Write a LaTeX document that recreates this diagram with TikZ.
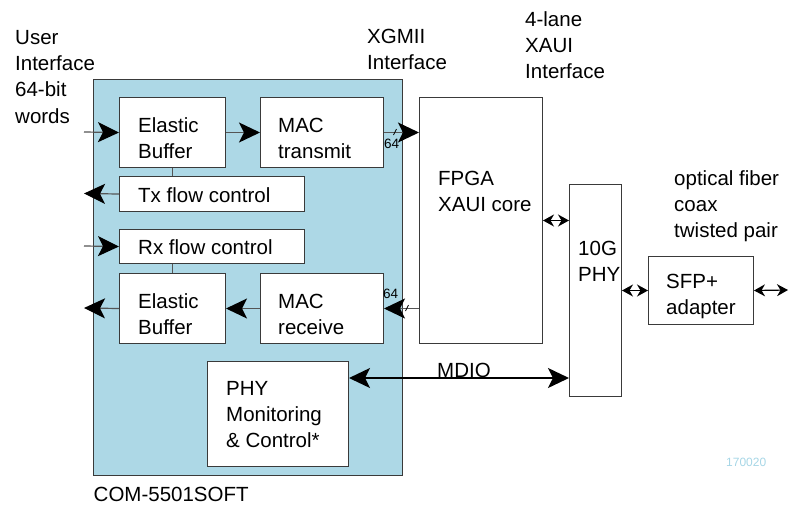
\documentclass[tikz,border=0pt]{standalone}
\usepackage{fontspec}
\setmainfont{Liberation Sans}
\usetikzlibrary{arrows.meta}

\newcommand\lblfont{\fontsize{20.5}{26.3}\selectfont}
\newcommand\busfont{\fontsize{13.5}{15}\selectfont}
\newcommand\tagfont{\fontsize{12}{14}\selectfont}

\definecolor{panel}{HTML}{ADD8E6}
\definecolor{edge}{HTML}{3A3A3A}
\definecolor{wire}{HTML}{555555}
\definecolor{tagblue}{HTML}{A6D6E6}

\begin{document}
\begin{tikzpicture}[x=1pt,y=-1pt,
  box/.style={draw=edge, line width=1pt, fill=white, anchor=north west, inner sep=0pt},
  % multi-line labels: placed by the baseline of their first line
  txt/.style={font=\lblfont, align=left, inner sep=0pt, anchor=north west, yshift=18.41pt},
  bus/.style={font=\busfont, inner sep=0pt, anchor=base west},
  wire/.style={draw=wire, line width=1.2pt},
  bigtip/.tip={Stealth[length=21pt,width=20pt,inset=5pt,color=black]},
  smalltip/.tip={Stealth[length=11pt,width=12pt,inset=3.5pt]},
  bigarrow/.style={wire, -{bigtip}},
  smallboth/.style={draw=black, line width=1.2pt, {smalltip}-{smalltip}},
  mdio/.style={draw=black, line width=1.5pt, {bigtip}-{bigtip}},
  tick/.style={draw=black, line width=0.7pt}
]
\useasboundingbox (0,0) rectangle (795,504);

% COM-5501SOFT core panel and its blocks
\node[box, fill=panel, minimum width=309pt, minimum height=396pt] (core) at (93,79) {};
\node[box, minimum width=106pt, minimum height=70pt] (eb1) at (119,97) {};
\node[box, minimum width=123pt, minimum height=70pt] (mactx) at (260,97) {};
\node[box, minimum width=185pt, minimum height=35pt] (txfc) at (119,176) {};
\node[box, minimum width=185pt, minimum height=34pt] (rxfc) at (119,229) {};
\node[box, minimum width=106pt, minimum height=70pt] (eb2) at (119,273) {};
\node[box, minimum width=123pt, minimum height=70pt] (macrx) at (260,273) {};
\node[box, minimum width=141pt, minimum height=105pt] (mon) at (207,361) {};

% external blocks
\node[box, minimum width=123pt, minimum height=246pt] (fpga) at (419,97) {};
\node[box, minimum width=52pt, minimum height=212pt] (phy) at (569,184) {};
\node[box, minimum width=105pt, minimum height=68pt] (sfp) at (648,256) {};

% block texts
\node[txt] (teb1) at (138,132) {\strut Elastic\\Buffer};
\node[txt] (tmactx) at (278,132) {\strut MAC\\transmit};
\node[txt] (ttxfc) at (138,202) {\strut Tx flow control};
\node[txt] (trxfc) at (138,254) {\strut Rx flow control};
\node[txt] (teb2) at (138,308) {\strut Elastic\\Buffer};
\node[txt] (tmacrx) at (278,308) {\strut MAC\\receive};
\node[txt] (tmon) at (226,395) {\strut PHY\\Monitoring\\\& Control*};
\node[txt] (tfpga) at (438,185) {\strut FPGA\\XAUI core};
\node[txt] (tphy) at (578,255) {\strut 10G\\PHY};
\node[txt] (tsfp) at (666,288) {\strut SFP+\\adapter};

% interface captions
\node[txt] (user) at (15,44) {\strut User\\Interface\\64-bit\\words};
\node[txt] (xgmii) at (367,43) {\strut XGMII\\Interface};
\node[txt] (xaui) at (525,26) {\strut 4-lane\\XAUI\\Interface};
\node[txt] (media) at (674,185) {\strut optical fiber\\coax\\twisted pair};
\node[txt] (mdiotxt) at (437,377) {\strut MDIO};
\node[txt] (title) at (93.5,501) {\strut COM-5501SOFT};
\node[font=\tagfont, text=tagblue, inner sep=0pt, anchor=base west] (tag) at (726,466) {170020};

% free ends of the user-side and line-side connectors
\coordinate (uin) at (84,132);
\coordinate (txout) at (84,193.5);
\coordinate (rxin) at (84,246);
\coordinate (rxout) at (84,308);
\coordinate (line) at (788,290);
\coordinate (mdioy) at (0,378);

% transmit path
\draw[bigarrow] (uin) -- (eb1.west);
\draw[bigarrow] (eb1.east) -- (mactx.west);
\draw[bigarrow] (mactx.east) -- (mactx.east -| fpga.west);
\draw[wire, line width=1pt] (eb1.south) -- (eb1.south |- txfc.north);
\draw[bigarrow] (txfc.west) -- (txout);

% receive path
\draw[bigarrow] (rxin) -- (rxfc.west);
\draw[wire, line width=1pt] (eb2.north) -- (eb2.north |- rxfc.south);
\draw[bigarrow] (macrx.west) -- (eb2.east);
\draw[bigarrow] (eb2.west) -- (rxout);
\draw[bigarrow] (macrx.east -| fpga.west) -- (macrx.east);

% 64-bit bus marks
\draw[tick] (393.5,135) -- (396.5,129);
\node[bus] (btx) at (384,148) {64};
\draw[tick] (405.5,311) -- (408.5,305);
\node[bus] (brx) at (383,298) {64};

% XAUI, line side and management links
\draw[smallboth] (fpga.east) -- (fpga.east -| phy.west);
\draw[smallboth] (sfp.west -| phy.east) -- (sfp.west);
\draw[smallboth] (sfp.east) -- (line);
\draw[mdio] (mon.east |- mdioy) -- (phy.west |- mdioy);
\end{tikzpicture}
\end{document}
